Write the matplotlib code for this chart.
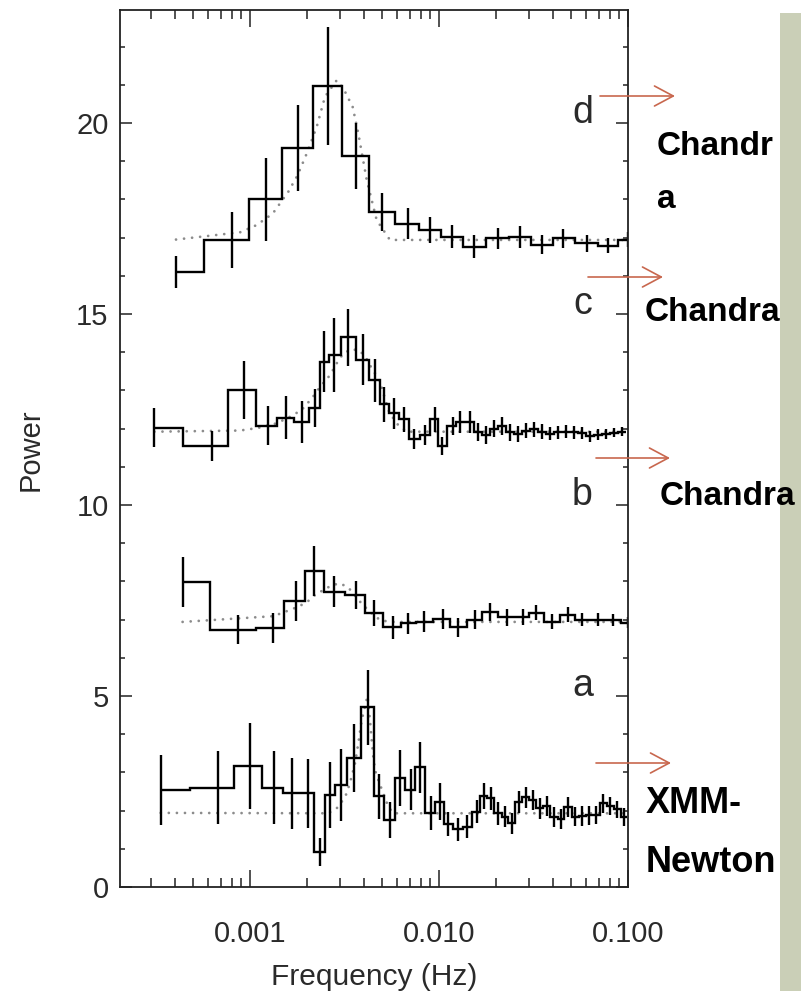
import matplotlib
matplotlib.use('Agg')
import matplotlib.pyplot as plt
import numpy as np
from matplotlib.ticker import MultipleLocator, FuncFormatter, NullFormatter
from matplotlib.patches import Rectangle

plt.rcParams['font.family'] = ['Liberation Sans', 'DejaVu Sans']

# ---- data (frequency in Hz, power) ----
# (d) Chandra
freq_d = [4.06e-4, 8.03e-4, 1.22e-3, 1.80e-3, 2.59e-3, 3.64e-3, 4.99e-3, 6.86e-3, 8.96e-3,
          0.0117, 0.0153, 0.0205, 0.0268, 0.0351, 0.0453, 0.0607, 0.0784, 0.100]
power_d = [16.1, 16.94, 18.0, 19.35, 20.97, 19.14, 17.68, 17.37, 17.2,
           17.02, 16.76, 16.98, 17.02, 16.82, 16.98, 16.85, 16.79, 16.95]
err_d = [0.43, 0.73, 1.09, 1.13, 1.54, 0.86, 0.5, 0.41, 0.34,
         0.3, 0.3, 0.28, 0.28, 0.25, 0.25, 0.22, 0.2, 0.2]
model_f_d = [4.06e-4, 8.86e-4, 1.085e-3, 1.319e-3, 1.594e-3, 1.788e-3, 1.995e-3, 2.254e-3,
             2.493e-3, 2.876e-3, 3.117e-3, 3.494e-3, 3.741e-3, 4.145e-3, 4.68e-3, 5.50e-3, 0.1]
model_p_d = [16.95, 17.14, 17.33, 17.63, 18.2, 18.64, 19.2, 19.9,
             20.69, 21.12, 20.91, 20.42, 19.73, 18.51, 17.46, 16.94, 16.94]

# (c) Chandra
freq_c = [3.12e-4, 6.32e-4, 9.33e-4, 1.25e-3, 1.55e-3, 1.89e-3, 2.21e-3, 2.47e-3, 2.79e-3,
          3.31e-3, 3.95e-3, 4.59e-3, 5.14e-3, 5.80e-3, 6.53e-3, 7.40e-3, 8.43e-3, 9.52e-3,
          0.01033, 0.01182, 0.01292, 0.01459, 0.01609, 0.01773, 0.01954, 0.02154, 0.02375,
          0.02618, 0.02886, 0.03181, 0.03508, 0.03867, 0.04262, 0.04699, 0.0518, 0.0571,
          0.06295, 0.06939, 0.07649, 0.08433, 0.09296]
power_c = [12.02, 11.55, 13.01, 12.07, 12.29, 12.18, 12.54, 13.75, 13.93,
           14.39, 13.81, 13.27, 12.64, 12.4, 12.24, 11.74, 11.83, 12.24,
           11.54, 12.07, 12.18, 12.18, 11.92, 11.84, 12.0, 12.07, 11.9,
           11.87, 11.95, 11.98, 11.92, 11.87, 11.9, 11.92, 11.9, 11.88,
           11.8, 11.84, 11.86, 11.89, 11.92]
err_c = [0.51, 0.4, 0.75, 0.51, 0.57, 0.55, 0.5, 0.8, 0.96,
         0.75, 0.68, 0.56, 0.46, 0.4, 0.32, 0.26, 0.27, 0.32,
         0.24, 0.24, 0.29, 0.29, 0.24, 0.24, 0.23, 0.23, 0.22,
         0.21, 0.2, 0.2, 0.19, 0.18, 0.18, 0.17, 0.16, 0.16,
         0.15, 0.14, 0.13, 0.12, 0.12]
model_f_c = [3.12e-4, 8.85e-4, 1.106e-3, 1.384e-3, 1.628e-3, 1.877e-3, 2.121e-3, 2.346e-3,
             2.651e-3, 2.876e-3, 3.117e-3, 3.452e-3, 3.819e-3, 4.145e-3, 4.314e-3, 4.874e-3,
             5.392e-3, 5.731e-3, 6.09e-3, 6.748e-3, 0.1]
model_p_c = [11.92, 11.95, 12.02, 12.14, 12.31, 12.49, 12.79, 13.09,
             13.4, 13.71, 13.97, 14.08, 14.04, 13.82, 13.66, 13.23,
             12.49, 12.27, 12.09, 11.92, 11.92]

# (b) Chandra
freq_b = [4.40e-4, 8.67e-4, 1.32e-3, 1.75e-3, 2.19e-3, 2.79e-3, 3.64e-3, 4.53e-3, 5.69e-3,
          6.88e-3, 8.33e-3, 0.01046, 0.01265, 0.0155, 0.01862, 0.02281, 0.02773, 0.0326,
          0.03948, 0.04832, 0.05689, 0.06966, 0.0836, 0.100]
power_b = [7.99, 6.74, 6.79, 7.49, 8.27, 7.73, 7.64, 7.18, 6.8,
           6.9, 6.95, 7.02, 6.8, 7.0, 7.2, 7.06, 7.06, 7.18,
           6.95, 7.13, 7.0, 7.0, 7.0, 6.92]
err_b = [0.65, 0.39, 0.39, 0.52, 0.65, 0.41, 0.37, 0.34, 0.3,
         0.28, 0.27, 0.26, 0.25, 0.24, 0.23, 0.22, 0.21, 0.2,
         0.2, 0.19, 0.18, 0.17, 0.16, 0.15]
model_f_b = [4.40e-4, 1.328e-3, 1.662e-3, 1.839e-3, 2.035e-3, 2.254e-3, 2.443e-3, 2.706e-3,
             2.994e-3, 3.313e-3, 3.819e-3, 4.314e-3, 4.874e-3, 5.503e-3, 0.1]
model_p_b = [6.94, 7.09, 7.27, 7.36, 7.49, 7.68, 7.77, 7.9,
             7.95, 7.84, 7.47, 7.2, 6.99, 6.94, 6.94]

# (a) XMM-Newton
freq_a = [3.37e-4, 6.80e-4, 1.0e-3, 1.345e-3, 1.674e-3, 2.035e-3, 2.346e-3, 2.651e-3,
          3.019e-3, 3.549e-3, 4.226e-3, 4.815e-3, 5.503e-3, 6.219e-3, 7.085e-3, 7.934e-3,
          9.04e-3, 0.01012, 0.0112, 0.01265, 0.01402, 0.01583, 0.0173, 0.01884, 0.02052,
          0.02235, 0.02433, 0.0265, 0.02886, 0.03143, 0.03422, 0.03727, 0.0406, 0.04421,
          0.04814, 0.05244, 0.0571, 0.06219, 0.06773, 0.07376, 0.08032, 0.08747, 0.09524]
power_a = [2.54, 2.6, 3.17, 2.6, 2.45, 2.45, 0.92, 2.41,
           2.67, 3.39, 4.7, 2.38, 1.75, 2.86, 2.55, 3.13,
           1.94, 2.23, 1.65, 1.51, 1.58, 1.97, 2.38, 2.32, 1.93,
           1.84, 1.67, 2.23, 2.35, 2.28, 2.06, 2.12, 1.84, 1.77,
           2.09, 1.84, 1.86, 1.88, 1.88, 2.19, 2.12, 2.03, 1.84]
err_a = [0.92, 0.95, 1.13, 0.95, 0.92, 0.9, 0.36, 0.87,
         0.95, 0.89, 0.98, 0.59, 0.48, 0.73, 0.53, 0.66,
         0.44, 0.48, 0.31, 0.3, 0.3, 0.3, 0.34, 0.3, 0.3,
         0.28, 0.28, 0.28, 0.28, 0.27, 0.27, 0.27, 0.26, 0.26,
         0.26, 0.25, 0.25, 0.25, 0.24, 0.24, 0.24, 0.23, 0.23]
model_f_a = [3.37e-4, 2.596e-3, 2.876e-3, 3.056e-3, 3.249e-3, 3.452e-3, 3.594e-3, 3.741e-3,
             3.899e-3, 4.059e-3, 4.184e-3, 4.314e-3, 4.404e-3, 4.491e-3, 4.585e-3, 4.774e-3,
             5.074e-3, 5.392e-3, 5.731e-3, 0.1]
model_p_a = [1.94, 1.93, 2.06, 2.23, 2.45, 2.89, 3.24, 3.76,
             4.37, 4.72, 5.0, 4.37, 3.85, 3.41, 3.06, 2.8,
             2.45, 2.1, 1.93, 1.93]

panel_letters = ['d', 'c', 'b', 'a']
letter_y = [20, 15, 10, 5]

# annotations on the right: (text, left px, top px) and arrows (x0, x1, y) in figure pixels
notes = [('Chandr\na', 657, 131), ('Chandra', 645, 297), ('Chandra', 660, 481), ('XMM-\nNewton', 646, 786)]
arrows = [(600, 675, 96), (588, 663, 277), (596, 670, 458), (596, 671, 763)]

W, H = 801, 991
ARROW = '#C8674E'
TXT = '#2a2a2a'


def stair_edges(freq):
    f = np.asarray(freq)
    mid = np.sqrt(f[1:] * f[:-1])
    return np.concatenate([[f[0]], mid, [f[-1] * np.sqrt(f[-1] / f[-2])]])


def fig_xy(x, y):
    return x / W, 1 - y / H


fig = plt.figure(figsize=(W / 100, H / 100), dpi=100)
ax = fig.add_axes([120 / W, 1 - 887 / H, 508 / W, 877 / H])

series = [
    (freq_d, power_d, err_d, model_f_d, model_p_d),
    (freq_c, power_c, err_c, model_f_c, model_p_c),
    (freq_b, power_b, err_b, model_f_b, model_p_b),
    (freq_a, power_a, err_a, model_f_a, model_p_a),
]
for freq, power, err, mf, mp in series:
    # dotted model curve: round dots spaced ~8 px
    ax.plot(mf, mp, color='#8c8c8c', lw=2.0, ls=(0, (0.01, 2.9)), dash_capstyle='round', zorder=1)
    ax.stairs(power, stair_edges(freq), baseline=None, color='black', lw=1.7, zorder=2)
    ax.errorbar(freq, power, yerr=err, fmt='none', ecolor='black', elinewidth=1.7, capsize=0, zorder=2)

for letter, y in zip(panel_letters, letter_y):
    ax.text(0.0574, y, letter, fontsize=27, color=TXT, ha='center', va='baseline')

ax.set_xscale('log')
ax.set_xlim(2.052e-4, 0.1)
ax.set_ylim(0, 22.96)
ax.set_yticks([0, 5, 10, 15, 20])
ax.yaxis.set_minor_locator(MultipleLocator(1))
ax.xaxis.set_major_formatter(FuncFormatter(lambda v, pos: f'{v:.3f}'))
ax.xaxis.set_minor_formatter(NullFormatter())

ax.tick_params(which='both', direction='in', top=True, right=True, width=1.1,
               color='#222222', labelsize=21, labelcolor=TXT)
ax.tick_params(axis='x', which='major', length=12.2, pad=23.5)
ax.tick_params(axis='x', which='minor', length=6.3)
ax.tick_params(axis='y', which='major', length=8.4, pad=8.2)
ax.tick_params(axis='y', which='minor', length=3.8)
for sp in ax.spines.values():
    sp.set_linewidth(1.3)
    sp.set_color('#222222')

fig.text(*fig_xy(31, 450), 'Power', rotation=90, ha='center', va='center', fontsize=21, color=TXT)
fig.text(*fig_xy(374, 985), 'Frequency (Hz)', ha='center', va='baseline', fontsize=21.5, color=TXT)

# grey side bar of the slide
fig.add_artist(Rectangle((780 / W, 0), 21 / W, (H - 13) / H, transform=fig.transFigure,
                         facecolor='#CACFB7', edgecolor='none', zorder=0))

for x0, x1, y in arrows:
    ax.annotate('', xy=fig_xy(x1, y), xytext=fig_xy(x0, y),
                xycoords='figure fraction', textcoords='figure fraction', annotation_clip=False,
                arrowprops=dict(arrowstyle='->,head_length=0.75,head_width=0.4', color=ARROW,
                                lw=1.2, shrinkA=0, shrinkB=0, mutation_scale=18))

for label, x, y in notes:
    size = 26 if 'XMM' in label else 24
    fig.text(*fig_xy(x, y), label, fontsize=size, fontweight='bold', color='black',
             ha='left', va='top', linespacing=1.9, zorder=5)

fig.savefig('out.png', dpi=100)
